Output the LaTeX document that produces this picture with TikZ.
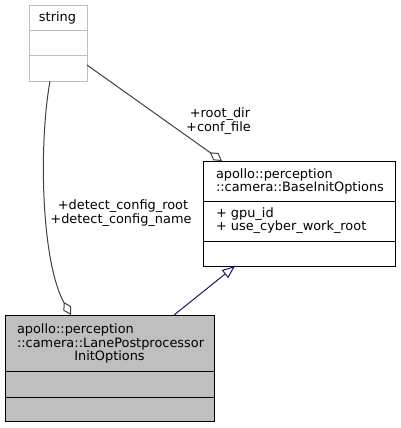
\documentclass[tikz,border=0pt]{standalone}
\usepackage{fontspec}
\setmainfont{DejaVu Sans}
\usetikzlibrary{arrows.meta,calc}
\definecolor{edgegray}{HTML}{404040}
\definecolor{boxgray}{HTML}{BFBFBF}
\definecolor{inhblue}{HTML}{191970}
\begin{document}
\begin{tikzpicture}[x=1pt,y=-1pt,
  every node/.style={inner sep=0pt, outer sep=0pt},
  txt/.style={font=\fontsize{12.9}{13.5}\selectfont, text=black},
  umlbox/.style={draw=black, line width=1pt, anchor=north west},
  sep/.style={draw=black, line width=1pt},
  aggr/.style={draw=edgegray, line width=1pt, -{Diamond[open, length=15pt, width=9pt]}},
  inh/.style={draw=inhblue, line width=1pt, -{Triangle[open, length=13pt, width=10pt]}}]
\useasboundingbox (0,0) rectangle (400,428);
% string
\node[umlbox, draw=boxgray, minimum width=58pt, minimum height=75pt] (str) at (29,6) {};
\draw[draw=boxgray, line width=1pt] (29,31) -- (87,31) (29,56) -- (87,56);
\node[txt, anchor=base] (strt) at (57.5,21.5) {string};
% BaseInitOptions
\node[umlbox, fill=white, minimum width=192pt, minimum height=105pt] (base) at (203,161) {};
\draw[sep] (203,201) -- (395,201) (203,241) -- (395,241);
\node[txt, anchor=base west] (b1) at (216,178) {apollo::perception};
\node[txt, anchor=base west] (b2) at (216,191.5) {::camera::BaseInitOptions};
\node[txt, anchor=base west] (b3) at (216,217) {+ gpu\_id};
\node[txt, anchor=base west] (b4) at (216,230.5) {+ use\_cyber\_work\_root};
% LanePostprocessorInitOptions
\node[umlbox, fill=boxgray, minimum width=209pt, minimum height=106pt] (lane) at (5,315) {};
\draw[sep] (5,371) -- (214,371) (5,397) -- (214,397);
\node[txt, anchor=base west] (l1) at (17,333.5) {apollo::perception};
\node[txt, anchor=base west] (l2) at (17,347) {::camera::LanePostprocessor};
\node[txt, anchor=base] (l3) at (109.5,360.5) {InitOptions};
% edges
\draw[aggr] ($(str.north east)!0.787!(str.south east)$) -- ($(base.north west)!0.099!(base.north east)$);
\draw[aggr] ($(str.south west)!0.362!(str.south east)$) .. controls +(-12,68) and +(-29,-51) .. ($(lane.north west)!0.316!(lane.north east)$);
\draw[inh] ($(lane.north west)!0.809!(lane.north east)$) -- ($(base.south west)!0.167!(base.south east)$);
% labels
\node[txt, anchor=base] (e1a) at (220,117) {+root\_dir};
\node[txt, anchor=base] (e1b) at (218.5,131) {+conf\_file};
\node[txt, anchor=base] (e2a) at (123,209) {+detect\_config\_root};
\node[txt, anchor=base] (e2b) at (121,223) {+detect\_config\_name};
\end{tikzpicture}
\end{document}
